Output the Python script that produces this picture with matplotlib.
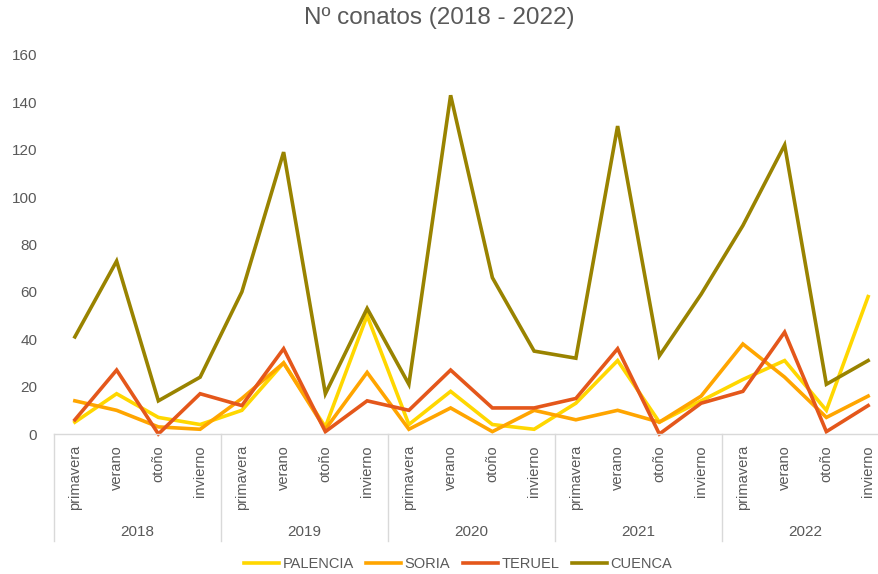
import matplotlib.pyplot as plt
from matplotlib.transforms import blended_transform_factory

plt.rcParams['font.family'] = ['Liberation Sans', 'DejaVu Sans']

# Data
years = ["2018", "2019", "2020", "2021", "2022"]
seasons = ["primavera", "verano", "otoño", "invierno"]

palencia = [5, 17, 7, 4, 10, 30, 3, 50, 4, 18, 4, 2, 13, 31, 5, 14, 23, 31, 10, 58]
soria = [14, 10, 3, 2, 15, 30, 2, 26, 2, 11, 1, 10, 6, 10, 5, 16, 38, 24, 7, 16]
teruel = [6, 27, 0, 17, 12, 36, 1, 14, 10, 27, 11, 11, 15, 36, 0, 13, 18, 43, 1, 12]
cuenca = [41, 73, 14, 24, 60, 119, 17, 53, 21, 143, 66, 35, 32, 130, 33, 59, 88, 122, 21, 31]

series = [("PALENCIA", palencia, "#FFD700"),
          ("SORIA", soria, "#FFA500"),
          ("TERUEL", teruel, "#E4571B"),
          ("CUENCA", cuenca, "#998300")]

grey = "#595959"
axis_grey = "#D9D9D9"

fig = plt.figure(figsize=(8.79, 5.74), dpi=100)
# plot area runs slightly past the right edge, as in the original export
ax = fig.add_axes([54 / 879, 140 / 574, 835 / 879, 379 / 574])

x = list(range(len(palencia)))
for name, vals, color in series:
    ax.plot(x, vals, color=color, lw=2.6, label=name,
            solid_joinstyle='miter', clip_on=False)

ax.set_xlim(-0.5, len(x) - 0.5)
ax.set_ylim(0, 160)
ax.set_yticks(range(0, 161, 20))
ax.tick_params(axis='y', length=0, labelsize=11, labelcolor=grey, pad=12)

for s in ["top", "right", "left"]:
    ax.spines[s].set_visible(False)
ax.spines["bottom"].set_color(axis_grey)
ax.spines["bottom"].set_linewidth(1)

ax.set_xticks(x)
ax.set_xticklabels(seasons * len(years), rotation=90, va='top', ha='center')
ax.tick_params(axis='x', length=0, labelsize=10.5, labelcolor=grey, pad=8)

# year groups and separators below the axis
trans = blended_transform_factory(ax.transData, ax.transAxes)
sep_bottom = -(541 - 434) / 379
for i, yr in enumerate(years):
    ax.text(i * 4 + 1.5, -(532 - 434) / 379, yr, transform=trans,
            ha='center', va='center', fontsize=11, color=grey)
for i in range(len(years) + 1):
    ax.plot([i * 4 - 0.5, i * 4 - 0.5], [0, sep_bottom], transform=trans,
            color=axis_grey, lw=1, clip_on=False)

fig.text(439 / 879, 1 - 18 / 574, "Nº conatos (2018 - 2022)", ha='center',
         va='center', fontsize=17.5, color=grey)

fig.legend(loc='center', bbox_to_anchor=(458 / 879, 10 / 574), ncol=4,
           frameon=False, fontsize=10.5, labelcolor=grey, handlelength=2.4,
           handletextpad=0.25, columnspacing=0.85)

fig.savefig("out.png", dpi=100)
